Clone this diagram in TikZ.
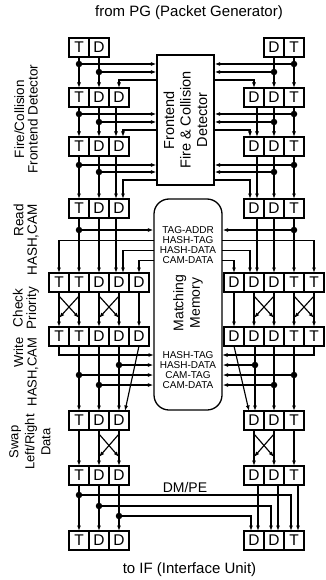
\documentclass[tikz,border=0pt]{standalone}
\usepackage{fontspec}
\setmainfont{Liberation Sans}
\usetikzlibrary{arrows.meta}
\newcommand\xcr[4]{%
  \draw[arr] (#1.south) -- (#3.north);
  \draw[arr] (#2.south) -- (#4.north);
  \draw[arr] ([yshift=-4pt]#1.south) -- ([yshift=9pt]#4.north);
  \draw[arr] ([yshift=-4pt]#2.south) -- ([yshift=9pt]#3.north);
}
\begin{document}
\begin{tikzpicture}[x=1pt,y=-1pt,
  cell/.style={draw,line width=1.3pt,minimum width=20pt,minimum height=19pt,inner sep=0pt,outer sep=0pt,font=\fontsize{15.5}{15.5}\selectfont},
  arr/.style={line width=1.15pt,-{Latex[length=5.5pt,width=4pt]}},
  dotn/.style={circle,fill,minimum size=6.5pt,inner sep=0pt},
  lbl/.style={rotate=90,font=\fontsize{13.5}{13.5}\selectfont,inner sep=0pt},
  memlbl/.style={font=\fontsize{10}{10}\selectfont,inner sep=0pt},
  big/.style={font=\fontsize{15}{15}\selectfont}
]
\useasboundingbox (0,0) rectangle (325,580);

% texts
\node[big] (title) at (189,13) {from PG (Packet Generator)};
\node[big] (foot) at (189.5,570) {to IF (Interface Unit)};
\node[lbl,align=center] (lab1) at (26,119) {Fire/Collision\\Frontend Detector};
\node[lbl,align=right] (lab2) at (26,240) {Read\\HASH,CAM};
\node[lbl,align=center] (lab3) at (26,308) {Check\\Priority};
\node[lbl,align=right,font=\fontsize{13}{13.5}\selectfont] (lab4) at (26,372) {Write\\HASH,CAM};
\node[lbl,align=center,font=\fontsize{13}{16}\selectfont] (lab5) at (30,442) {Swap\\Left/Right\\Data};
\node[font=\fontsize{14}{14}\selectfont] (dmpe) at (185,487) {DM/PE};

% cells
\node[cell] (l1t) at (79,47.5) {T};
\node[cell] (l1d) at (99,47.5) {D};
\node[cell] (r1d) at (274,47.5) {D};
\node[cell] (r1t) at (294,47.5) {T};
\foreach \rw/\y in {2/97.5,3/146.5,4/208.5,7/420.5,8/475.5,9/540.5}{
  \node[cell] (l\rw t) at (79,\y) {T};
  \node[cell] (l\rw d) at (99,\y) {D};
  \node[cell] (l\rw e) at (119,\y) {D};
  \node[cell] (r\rw e) at (254,\y) {D};
  \node[cell] (r\rw d) at (274,\y) {D};
  \node[cell] (r\rw t) at (294,\y) {T};
}
\foreach \rw/\y in {5/282.5,6/336.5}{
  \node[cell] (l\rw a) at (59,\y) {T};
  \node[cell] (l\rw b) at (79,\y) {T};
  \node[cell] (l\rw c) at (99,\y) {D};
  \node[cell] (l\rw d) at (119,\y) {D};
  \node[cell] (l\rw e) at (139,\y) {D};
  \node[cell] (r\rw a) at (234,\y) {D};
  \node[cell] (r\rw b) at (254,\y) {D};
  \node[cell] (r\rw c) at (274,\y) {D};
  \node[cell] (r\rw d) at (294,\y) {T};
  \node[cell] (r\rw e) at (314,\y) {T};
}

% frontend detector
\node[draw,line width=1.3pt,minimum width=57pt,minimum height=130pt,inner sep=0pt] (fe) at (185.5,120) {};
\node[rotate=90,align=center,font=\fontsize{14.5}{16.5}\selectfont] (fetext) at (fe.center) {Frontend\\Fire \& Collision\\Detector};

% matching memory
\node[draw,line width=1.3pt,rounded corners=15pt,minimum width=68pt,minimum height=211pt,inner sep=0pt] (mm) at (188,304.5) {};
\node[rotate=90,align=center,font=\fontsize{14}{16.5}\selectfont] (mmtext) at (188,303) {Matching\\Memory};
\node[memlbl] (m1) at (188,230) {TAG-ADDR};
\node[memlbl] (m2) at (188,240.5) {HASH-TAG};
\node[memlbl] (m3) at (188,250.5) {HASH-DATA};
\node[memlbl] (m4) at (188,260.5) {CAM-DATA};
\node[memlbl] (m5) at (188,355) {HASH-TAG};
\node[memlbl] (m6) at (188,365) {HASH-DATA};
\node[memlbl] (m7) at (188,375) {CAM-TAG};
\node[memlbl] (m8) at (188,385) {CAM-DATA};

% ---------- frontend stage, left
\node[dotn] (a1) at (79,64) {};
\node[dotn] (a2) at (99,72) {};
\draw[arr] (l1t.south) -- (l2t.north);
\draw[arr] (l1d.south) -- (l2d.north);
\draw[arr] (a1) -- (a1 -| fe.west);
\draw[arr] (a2) -- (a2 -| fe.west);
\coordinate (fl1) at (157,80);
\draw[arr] (fl1) -| (l2e.north);

\node[dotn] (b1) at (79,114) {};
\node[dotn] (b2) at (99,122) {};
\draw[arr] (l2t.south) -- (l3t.north);
\draw[arr] (l2d.south) -- (l3d.north);
\draw[arr] ([xshift=-3pt]l2e.south) -- ([xshift=-3pt]l3e.north);
\draw[arr] (b1) -- (b1 -| fe.west);
\draw[arr] (b2) -- (b2 -| fe.west);
\coordinate (fl2) at (157,130);
\draw[arr] (fl2) -| ([xshift=4pt]l3e.north);

\node[dotn] (c1) at (79,165) {};
\node[dotn] (c2) at (99,172) {};
\draw[arr] (l3t.south) -- (l4t.north);
\draw[arr] (l3d.south) -- (l4d.north);
\draw[arr] ([xshift=-3pt]l3e.south) -- ([xshift=-3pt]l4e.north);
\draw[arr] (c1) -- (c1 -| fe.west);
\draw[arr] (c2) -- (c2 -| fe.west);
\coordinate (fl3) at (157,180);
\draw[arr] (fl3) -| ([xshift=4pt]l4e.north);

% ---------- frontend stage, right
\node[dotn] (a3) at (294,64) {};
\node[dotn] (a4) at (274,72) {};
\draw[arr] (r1t.south) -- (r2t.north);
\draw[arr] (r1d.south) -- (r2d.north);
\draw[arr] (a3) -- (a3 -| fe.east);
\draw[arr] (a4) -- (a4 -| fe.east);
\coordinate (fr1) at (214,80);
\draw[arr] (fr1) -| (r2e.north);

\node[dotn] (b3) at (294,114) {};
\node[dotn] (b4) at (274,122) {};
\draw[arr] (r2t.south) -- (r3t.north);
\draw[arr] (r2d.south) -- (r3d.north);
\draw[arr] ([xshift=3pt]r2e.south) -- ([xshift=3pt]r3e.north);
\draw[arr] (b3) -- (b3 -| fe.east);
\draw[arr] (b4) -- (b4 -| fe.east);
\coordinate (fr2) at (214,130);
\draw[arr] (fr2) -| ([xshift=-4pt]r3e.north);

\node[dotn] (c3) at (294,165) {};
\node[dotn] (c4) at (274,172) {};
\draw[arr] (r3t.south) -- (r4t.north);
\draw[arr] (r3d.south) -- (r4d.north);
\draw[arr] ([xshift=3pt]r3e.south) -- ([xshift=3pt]r4e.north);
\draw[arr] (c3) -- (c3 -| fe.east);
\draw[arr] (c4) -- (c4 -| fe.east);
\coordinate (fr3) at (214,180);
\draw[arr] (fr3) -| ([xshift=-4pt]r4e.north);

% ---------- read stage
\node[dotn] (d1) at (79,230) {};
\draw[arr] (d1) -- (d1 -| mm.west);
\draw[arr] (l4t.south) -- (l5b.north);
\draw[arr] (l4d.south) -- (l5c.north);
\draw[arr] ([xshift=-3pt]l4e.south) -- ([xshift=-3pt]l5d.north);
\coordinate (ml1) at (154,240.5);
\coordinate (ml2) at (154,250.5);
\coordinate (ml3) at (154,260.5);
\draw[arr] (ml1) -| (l5a.north);
\draw[arr] (ml2) -| ([xshift=4pt]l5d.north);
\draw[arr] (ml3) -| (l5e.north);

\node[dotn] (d2) at (294,230) {};
\draw[arr] (d2) -- (d2 -| mm.east);
\draw[arr] (r4t.south) -- (r5d.north);
\draw[arr] (r4d.south) -- (r5c.north);
\draw[arr] ([xshift=3pt]r4e.south) -- ([xshift=3pt]r5b.north);
\coordinate (mr1) at (222,240.5);
\coordinate (mr2) at (222,250.5);
\coordinate (mr3) at (222,260.5);
\draw[arr] (mr1) -| (r5e.north);
\draw[arr] (mr2) -| ([xshift=-4pt]r5b.north);
\draw[arr] (mr3) -| (r5a.north);

% ---------- check priority
\xcr{l5a}{l5b}{l6a}{l6b}
\xcr{l5c}{l5d}{l6c}{l6d}
\draw[arr] (l5e.south) -- (l6e.north);
\draw[arr] (r5a.south) -- (r6a.north);
\xcr{r5b}{r5c}{r6b}{r6c}
\xcr{r5d}{r5e}{r6d}{r6e}

% ---------- write stage
\coordinate (mw1) at (154,355);
\draw[arr] (l6a.south) |- (mw1);
\node[dotn] (e1) at (119,365) {};
\node[dotn] (e2) at (79,375) {};
\node[dotn] (e3) at (99,385) {};
\draw[arr] (e1) -- (e1 -| mm.west);
\draw[arr] (e2) -- (e2 -| mm.west);
\draw[arr] (e3) -- (e3 -| mm.west);
\draw[arr] (l6b.south) -- (l7t.north);
\draw[arr] (l6c.south) -- (l7d.north);
\draw[arr] (l6d.south) -- (l7e.north);
\draw[arr] (l6e.south) -- ([xshift=6pt]l7e.north);

\coordinate (mw2) at (222,355);
\draw[arr] (r6e.south) |- (mw2);
\node[dotn] (f1) at (255,365) {};
\node[dotn] (f2) at (294,375) {};
\node[dotn] (f3) at (274,385) {};
\draw[arr] (f1) -- (f1 -| mm.east);
\draw[arr] (f2) -- (f2 -| mm.east);
\draw[arr] (f3) -- (f3 -| mm.east);
\draw[arr] ([xshift=1pt]r6b.south) -- ([xshift=1pt]r7e.north);
\draw[arr] (r6c.south) -- (r7d.north);
\draw[arr] (r6d.south) -- (r7t.north);
\draw[arr] (r6a.south) -- ([xshift=-5pt]r7e.north);

% ---------- swap stage
\draw[arr] (l7t.south) -- (l8t.north);
\xcr{l7d}{l7e}{l8d}{l8e}
\xcr{r7e}{r7d}{r8e}{r8d}
\draw[arr] (r7t.south) -- (r8t.north);

% ---------- DM/PE
\node[dotn] (g1) at (79,495) {};
\node[dotn] (g2) at (99,506) {};
\node[dotn] (g3) at (119,516) {};
\draw[arr] (l8t.south) -- (l9t.north);
\draw[arr] (l8d.south) -- (l9d.north);
\draw[arr] (l8e.south) -- (l9e.north);
\draw[arr] (g1) -| ([xshift=-3pt]r9t.north);
\draw[arr] (g2) -| ([xshift=-3pt]r9d.north);
\draw[arr] (g3) -| ([xshift=-3pt]r9e.north);
\draw[arr] ([xshift=4pt]r8e.south) -- ([xshift=4pt]r9e.north);
\draw[arr] ([xshift=4pt]r8d.south) -- ([xshift=4pt]r9d.north);
\draw[arr] ([xshift=4pt]r8t.south) -- ([xshift=4pt]r9t.north);
\end{tikzpicture}
\end{document}
